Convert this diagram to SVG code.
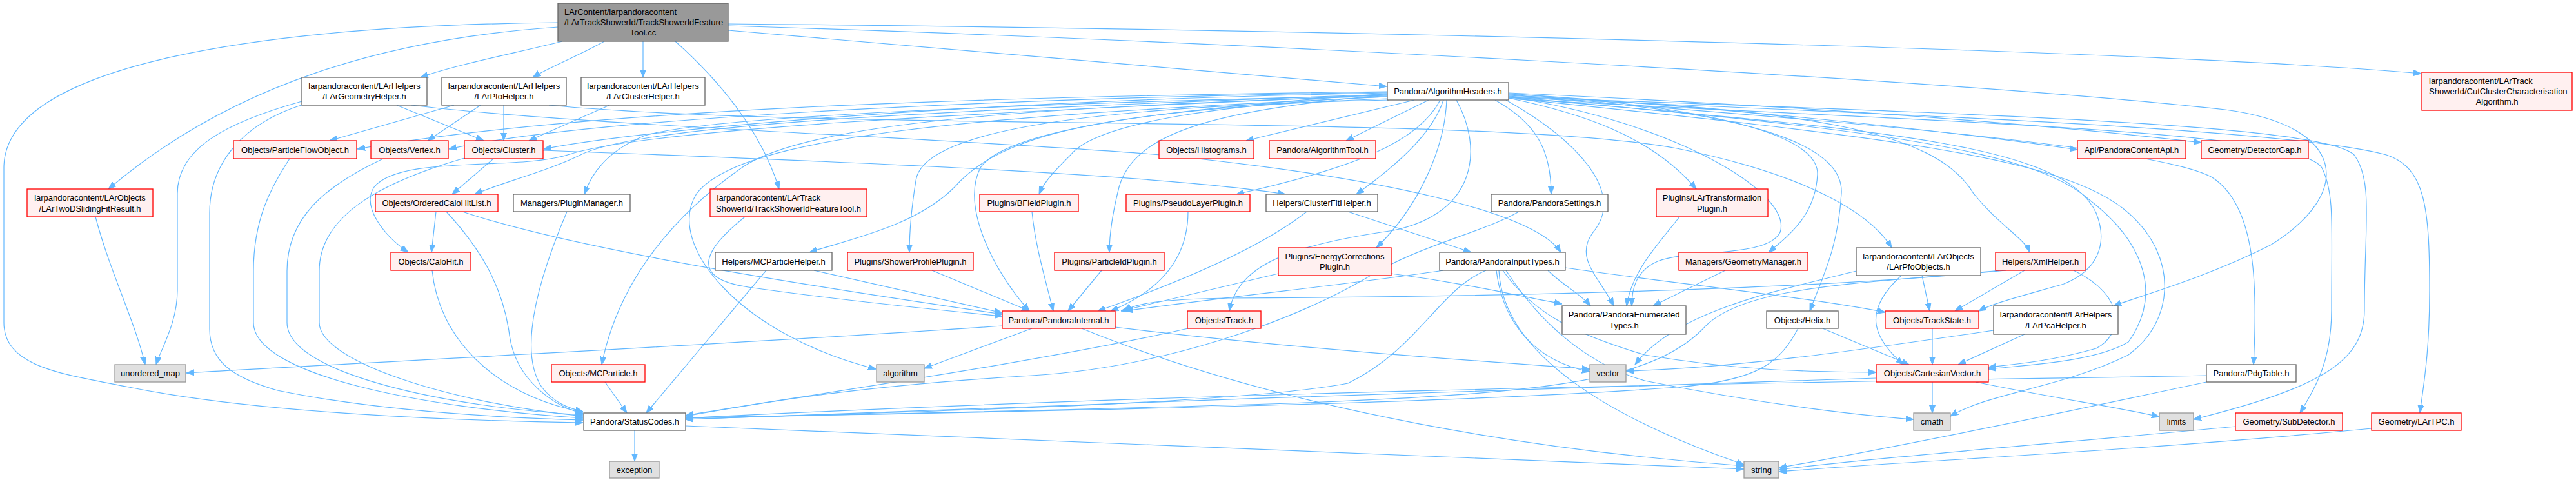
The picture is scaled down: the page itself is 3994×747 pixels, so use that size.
<svg xmlns="http://www.w3.org/2000/svg" width="3994" height="747" viewBox="0 0 3994 747">
<defs>
<style>
.e path{fill:none;stroke:#63b8ff;stroke-width:1.2;marker-end:url(#ah)}
.w rect{fill:#ffffff;stroke:#666666;stroke-width:1.3}
.r rect{fill:#fff0f0;stroke:#ff0000;stroke-width:1.3}
.s rect{fill:#e0e0e0;stroke:#999999;stroke-width:1.3}
.root rect{fill:#999999;stroke:#666666;stroke-width:1.3}
text{font-family:"Liberation Sans",Arial,sans-serif;font-size:13px;fill:#000000;text-anchor:middle}
text.l{text-anchor:start}
</style>
<marker id="ah" viewBox="0 0 12 10" refX="12" refY="5" markerWidth="12" markerHeight="10" orient="auto" markerUnits="userSpaceOnUse"><path d="M0,0.5 L12,5 L0,9.5 z" fill="#63b8ff" stroke="#63b8ff" stroke-width="1"/></marker>
</defs>
<rect width="3994" height="747" fill="#ffffff"/>
<g id="edges" class="e">
<path d="M1129,47 L2150,134"/>
<path d="M1129,37 C2000,45 3300,75 3754,114"/>
<path d="M1129,40 C1800,60 3000,120 3450,170 C3640,195 3650,300 3520,380 C3420,430 3330,455 3277,474"/>
<path d="M872,64 C800,82 700,102 652,120"/>
<path d="M937,64 C900,85 850,105 826,120"/>
<path d="M997,64 L997,120"/>
<path d="M1047,64 C1110,120 1180,200 1208,293"/>
<path d="M865,42 C600,60 360,130 168,293"/>
<path d="M865,35 C400,40 6,100 6,260 L6,500 C6,570 100,580 200,600 C400,640 700,652 904,655"/>
<path d="M615,163 L750,218"/>
<path d="M468,157 C350,190 275,230 275,300 L275,450 C275,500 250,540 242,565"/>
<path d="M470,162 C380,190 325,250 325,330 L325,510 C325,560 360,585 430,605 C600,640 800,648 904,651"/>
<path d="M638,163 C900,195 1500,215 1800,240 C2150,275 2380,330 2420,391"/>
<path d="M704,163 L511,218"/>
<path d="M745,163 L663,218"/>
<path d="M781,163 L781,218"/>
<path d="M851,163 C1300,205 2300,175 2600,230 C2800,270 2900,330 2933,384"/>
<path d="M945,163 L820,218"/>
<path d="M1155,336 C1100,380 1060,430 1160,445 C1300,465 1450,480 1554,490"/>
<path d="M765,246 L701,301"/>
<path d="M842,233 C1300,250 1800,270 1993,301"/>
<path d="M720,245 C600,280 495,330 495,420 L495,500 C495,560 700,625 904,645"/>
<path d="M594,246 C500,290 445,340 445,420 L445,500 C445,580 700,632 904,643"/>
<path d="M449,246 C420,290 393,340 393,420 L393,500 C393,580 650,632 904,648"/>
<path d="M148,336 C170,420 210,500 225,565"/>
<path d="M676,328 L669,391"/>
<path d="M692,328 C740,380 780,440 790,520 C800,590 860,630 904,641"/>
<path d="M717,328 C900,390 1300,450 1554,487"/>
<path d="M670,419 C680,520 760,610 904,639"/>
<path d="M879,328 C840,420 800,540 840,600 C860,625 880,632 904,638"/>
<path d="M2151,142 C1500,150 900,170 554,231"/>
<path d="M2151,143 C1500,153 900,185 696,231"/>
<path d="M2151,144 C1500,156 1000,200 843,231"/>
<path d="M2151,146 C1500,170 1000,190 900,240 C850,265 780,282 736,301"/>
<path d="M2151,147 C1500,175 1000,200 880,240 C800,265 620,240 580,290 C560,320 595,365 633,391"/>
<path d="M2151,148 C1600,160 1100,180 1000,210 C950,230 920,260 906,301"/>
<path d="M2151,149 C1600,165 1250,190 1150,260 C1050,330 960,430 933,565"/>
<path d="M2151,150 C1500,180 1150,210 1080,300 C1030,380 1150,520 1358,572"/>
<path d="M2152,153 C1700,170 1550,210 1480,290 C1420,350 1320,370 1255,391"/>
<path d="M2154,155 C1700,165 1430,200 1420,280 C1412,330 1410,360 1410,391"/>
<path d="M2151,145 C1800,170 1560,200 1520,260 C1490,320 1540,420 1596,482"/>
<path d="M2151,150 C1900,160 1700,190 1660,240 C1635,265 1620,280 1611,301"/>
<path d="M2151,147 C1900,170 1760,200 1735,290 C1725,330 1720,360 1720,391"/>
<path d="M2193,155 L1932,218"/>
<path d="M2215,155 L2087,218"/>
<path d="M2233,155 C2200,220 2100,260 1917,301"/>
<path d="M2238,155 C2220,210 2160,260 2103,301"/>
<path d="M2243,155 C2240,230 2200,320 2134,384"/>
<path d="M2258,155 C2300,230 2290,330 2161,357 C2000,380 1920,410 1906,482"/>
<path d="M2318,155 C2380,190 2405,230 2405,301"/>
<path d="M2339,152 C2450,175 2560,210 2630,293"/>
<path d="M2335,155 C2450,220 2520,300 2470,360 C2440,400 2480,430 2502,474"/>
<path d="M2339,150 C2600,190 2780,300 2760,360 C2740,400 2620,385 2570,405 C2535,420 2530,450 2530,474"/>
<path d="M2339,146 C2600,160 2820,200 2818,270 C2815,330 2780,360 2742,391"/>
<path d="M2339,147 C2700,170 2860,220 2855,300 C2850,380 2830,420 2806,482"/>
<path d="M2339,148 C2800,170 3000,200 3060,300 C3100,350 3140,370 3147,391"/>
<path d="M2339,151 C2900,200 3200,220 3250,330 C3270,380 3250,420 3200,440 C3130,460 3090,470 3068,482"/>
<path d="M2339,150 C2900,200 3150,230 3240,310 C3330,380 3350,460 3300,530 C3250,560 3150,565 3083,572"/>
<path d="M2339,152 C2900,210 3200,240 3300,330 C3380,400 3370,500 3300,550 C3200,600 3080,610 3024,645"/>
<path d="M2339,145 C2700,170 3000,200 3221,232"/>
<path d="M2339,144 C2800,165 3150,190 3413,221"/>
<path d="M2339,149 C2900,190 3350,230 3430,275 C3500,320 3500,450 3494,565"/>
<path d="M2339,153 C3000,190 3560,200 3600,260 C3620,300 3615,350 3615,480 C3615,560 3590,600 3566,640"/>
<path d="M2339,151 C3000,180 3550,200 3700,240 C3760,260 3767,320 3767,450 C3767,550 3757,600 3752,640"/>
<path d="M2339,150 C3000,175 3600,190 3650,240 C3680,280 3666,350 3666,480 C3666,560 3600,600 3401,650"/>
<path d="M2238,419 C2100,440 1900,460 1745,482"/>
<path d="M2400,419 C2420,440 2450,455 2466,474"/>
<path d="M2427,415 C2600,440 2800,460 2923,484"/>
<path d="M2304,419 C2230,450 2200,540 2090,594 C1900,630 1300,640 1063,650"/>
<path d="M2320,419 C2330,500 2380,560 2465,576"/>
<path d="M2324,419 C2330,550 2500,650 2704,720"/>
<path d="M2330,419 C2380,490 2450,520 2550,550 C2700,575 2800,576 2909,577"/>
<path d="M2335,419 C2400,520 2480,570 2550,590 C2750,630 2900,645 2967,650"/>
<path d="M1982,424 L1738,482"/>
<path d="M2157,424 C2280,440 2360,460 2422,471"/>
<path d="M2355,328 C2300,360 2200,380 2120,430 C2000,500 1800,570 1600,582 C1300,600 1150,630 1063,645"/>
<path d="M2604,336 C2570,380 2530,420 2522,474"/>
<path d="M2675,419 L2563,474"/>
<path d="M2026,328 C1960,380 1850,430 1702,482"/>
<path d="M2090,328 L2281,391"/>
<path d="M1600,328 C1605,380 1620,430 1633,482"/>
<path d="M1842,328 C1842,400 1800,450 1722,482"/>
<path d="M1708,419 L1656,482"/>
<path d="M1445,419 L1596,482"/>
<path d="M1262,419 L1554,485"/>
<path d="M1188,419 L1002,640"/>
<path d="M938,592 L972,640"/>
<path d="M1842,509 C1600,564 1200,620 1063,644"/>
<path d="M1554,505 C1200,530 600,560 289,578"/>
<path d="M1600,509 L1433,571"/>
<path d="M1677,509 C2000,640 2400,700 2704,722"/>
<path d="M1729,507 C2000,540 2300,560 2465,572"/>
<path d="M2826,509 L2960,565"/>
<path d="M2788,509 C2760,560 2730,590 2600,600 C2200,630 1400,640 1063,648"/>
<path d="M2996,509 L2996,565"/>
<path d="M2878,420 C2760,450 2600,480 2535,565"/>
<path d="M2980,427 L2992,482"/>
<path d="M2948,427 C2890,480 2900,520 2951,565"/>
<path d="M3139,419 L3031,482"/>
<path d="M3215,419 C3300,460 3290,520 3250,540 C3180,560 3120,565 3083,569"/>
<path d="M3110,419 C2800,450 2300,460 1900,462 C1800,464 1760,470 1743,482"/>
<path d="M3100,419 C2900,440 2700,440 2640,510 C2560,590 2400,610 2000,625 C1500,640 1200,645 1063,647"/>
<path d="M3091,512 C2900,540 2700,570 2521,575"/>
<path d="M3139,518 L3036,565"/>
<path d="M3421,592 C3150,650 2900,700 2758,725"/>
<path d="M3421,582 C3000,590 2000,600 1063,648"/>
<path d="M3466,661 C3200,686 2900,710 2758,728"/>
<path d="M3677,664 C3300,700 2950,715 2758,731"/>
<path d="M2996,592 L2996,640"/>
<path d="M3063,592 C3200,620 3280,630 3348,646"/>
<path d="M2909,586 C2500,600 1500,630 1063,650"/>
<path d="M984,667 L984,715"/>
<path d="M1063,660 C1700,690 2300,710 2704,727"/>
</g>
<g id="node-root" class="root"><rect x="865" y="5" width="264" height="59"/><text class="l" x="875" y="23">LArContent/larpandoracontent</text><text class="l" x="875" y="39">/LArTrackShowerId/TrackShowerIdFeature</text><text x="997" y="55">Tool.cc</text></g>
<g id="node-geo" class="w"><rect x="468" y="120" width="194" height="43"/><text x="565" y="138">larpandoracontent/LArHelpers</text><text x="565" y="154">/LArGeometryHelper.h</text></g>
<g id="node-pfohelper" class="w"><rect x="685" y="120" width="193" height="43"/><text x="781.5" y="138">larpandoracontent/LArHelpers</text><text x="781.5" y="154">/LArPfoHelper.h</text></g>
<g id="node-clusterhelper" class="w"><rect x="901" y="120" width="192" height="43"/><text x="997" y="138">larpandoracontent/LArHelpers</text><text x="997" y="154">/LArClusterHelper.h</text></g>
<g id="node-algheaders" class="w"><rect x="2151" y="128" width="188" height="27"/><text x="2245" y="146">Pandora/AlgorithmHeaders.h</text></g>
<g id="node-cutcluster" class="r"><rect x="3755" y="112" width="233" height="59"/><text class="l" x="3766" y="130">larpandoracontent/LArTrack</text><text class="l" x="3766" y="146">ShowerId/CutClusterCharacterisation</text><text x="3871.5" y="162">Algorithm.h</text></g>
<g id="node-pfo" class="r"><rect x="362" y="218" width="191" height="28"/><text x="457.5" y="236.7">Objects/ParticleFlowObject.h</text></g>
<g id="node-vertex" class="r"><rect x="575" y="218" width="120" height="28"/><text x="635" y="236.7">Objects/Vertex.h</text></g>
<g id="node-cluster" class="r"><rect x="720" y="218" width="122" height="28"/><text x="781" y="236.7">Objects/Cluster.h</text></g>
<g id="node-histograms" class="r"><rect x="1797" y="218" width="147" height="28"/><text x="1870.5" y="236.7">Objects/Histograms.h</text></g>
<g id="node-algtool" class="r"><rect x="1968" y="218" width="165" height="28"/><text x="2050.5" y="236.7">Pandora/AlgorithmTool.h</text></g>
<g id="node-api" class="r"><rect x="3221" y="218" width="168" height="28"/><text x="3305" y="236.7">Api/PandoraContentApi.h</text></g>
<g id="node-gap" class="r"><rect x="3413" y="218" width="166" height="28"/><text x="3496" y="236.7">Geometry/DetectorGap.h</text></g>
<g id="node-twod" class="r"><rect x="42" y="293" width="195" height="43"/><text x="139.5" y="311">larpandoracontent/LArObjects</text><text x="139.5" y="327.5">/LArTwoDSlidingFitResult.h</text></g>
<g id="node-och" class="r"><rect x="582" y="301" width="190" height="27"/><text x="677" y="319.4">Objects/OrderedCaloHitList.h</text></g>
<g id="node-pluginmanager" class="w"><rect x="796" y="301" width="181" height="27"/><text x="886.5" y="319.4">Managers/PluginManager.h</text></g>
<g id="node-tsft" class="r"><rect x="1101" y="293" width="243" height="43"/><text class="l" x="1111.5" y="311">larpandoracontent/LArTrack</text><text x="1222.5" y="327.5">ShowerId/TrackShowerIdFeatureTool.h</text></g>
<g id="node-bfield" class="r"><rect x="1519" y="301" width="153" height="27"/><text x="1595.5" y="319.4">Plugins/BFieldPlugin.h</text></g>
<g id="node-pseudo" class="r"><rect x="1746" y="301" width="192" height="27"/><text x="1842" y="319.4">Plugins/PseudoLayerPlugin.h</text></g>
<g id="node-cfh" class="w"><rect x="1963" y="301" width="173" height="27"/><text x="2049.5" y="319.4">Helpers/ClusterFitHelper.h</text></g>
<g id="node-settings" class="w"><rect x="2312" y="301" width="181" height="27"/><text x="2402.5" y="319.4">Pandora/PandoraSettings.h</text></g>
<g id="node-lartr" class="r"><rect x="2568" y="293" width="173" height="43"/><text x="2654.5" y="311">Plugins/LArTransformation</text><text x="2654.5" y="327.5">Plugin.h</text></g>
<g id="node-calohit" class="r"><rect x="606" y="391" width="124" height="28"/><text x="668" y="409.7">Objects/CaloHit.h</text></g>
<g id="node-mcph" class="w"><rect x="1109" y="391" width="181" height="28"/><text x="1199.5" y="409.7">Helpers/MCParticleHelper.h</text></g>
<g id="node-spp" class="r"><rect x="1314" y="391" width="195" height="28"/><text x="1411.5" y="409.7">Plugins/ShowerProfilePlugin.h</text></g>
<g id="node-pidp" class="r"><rect x="1635" y="391" width="170" height="28"/><text x="1720" y="409.7">Plugins/ParticleIdPlugin.h</text></g>
<g id="node-ecp" class="r"><rect x="1982" y="384" width="175" height="43"/><text x="2069.5" y="401.5">Plugins/EnergyCorrections</text><text x="2069.5" y="418">Plugin.h</text></g>
<g id="node-pit" class="w"><rect x="2232" y="391" width="195" height="28"/><text x="2329.5" y="409.7">Pandora/PandoraInputTypes.h</text></g>
<g id="node-gm" class="r"><rect x="2603" y="391" width="200" height="28"/><text x="2703" y="409.7">Managers/GeometryManager.h</text></g>
<g id="node-lpo" class="w"><rect x="2878" y="384" width="193" height="43"/><text x="2974.5" y="401.5">larpandoracontent/LArObjects</text><text x="2974.5" y="418">/LArPfoObjects.h</text></g>
<g id="node-xml" class="r"><rect x="3094" y="391" width="139" height="28"/><text x="3163.5" y="409.7">Helpers/XmlHelper.h</text></g>
<g id="node-pint" class="r"><rect x="1554" y="482" width="175" height="27"/><text x="1641.5" y="500.5">Pandora/PandoraInternal.h</text></g>
<g id="node-track" class="r"><rect x="1841" y="482" width="114" height="27"/><text x="1898" y="500.5">Objects/Track.h</text></g>
<g id="node-enumt" class="w"><rect x="2422" y="474" width="192" height="44"/><text x="2518" y="492.3">Pandora/PandoraEnumerated</text><text x="2518" y="508.7">Types.h</text></g>
<g id="node-helix" class="w"><rect x="2739" y="482" width="111" height="27"/><text x="2794.5" y="500.5">Objects/Helix.h</text></g>
<g id="node-trackstate" class="r"><rect x="2923" y="482" width="145" height="27"/><text x="2995.5" y="500.5">Objects/TrackState.h</text></g>
<g id="node-pca" class="w"><rect x="3091" y="474" width="193" height="44"/><text x="3187.5" y="492.3">larpandoracontent/LArHelpers</text><text x="3187.5" y="508.7">/LArPcaHelper.h</text></g>
<g id="node-umap" class="s"><rect x="178" y="565" width="110" height="27"/><text x="233" y="583.4">unordered_map</text></g>
<g id="node-mcp" class="r"><rect x="855" y="565" width="145" height="27"/><text x="927.5" y="583.4">Objects/MCParticle.h</text></g>
<g id="node-algorithm" class="s"><rect x="1359" y="565" width="74" height="27"/><text x="1396" y="583.4">algorithm</text></g>
<g id="node-vector" class="s"><rect x="2465" y="565" width="56" height="27"/><text x="2493" y="583.4">vector</text></g>
<g id="node-cvec" class="r"><rect x="2909" y="565" width="174" height="27"/><text x="2996" y="583.4">Objects/CartesianVector.h</text></g>
<g id="node-pdg" class="w"><rect x="3421" y="565" width="139" height="27"/><text x="3490.5" y="583.4">Pandora/PdgTable.h</text></g>
<g id="node-status" class="w"><rect x="905" y="640" width="158" height="27"/><text x="984" y="658">Pandora/StatusCodes.h</text></g>
<g id="node-cmath" class="s"><rect x="2967" y="640" width="57" height="27"/><text x="2995.5" y="658">cmath</text></g>
<g id="node-limits" class="s"><rect x="3348" y="640" width="53" height="27"/><text x="3374.5" y="658">limits</text></g>
<g id="node-subdet" class="r"><rect x="3466" y="640" width="166" height="27"/><text x="3549" y="658">Geometry/SubDetector.h</text></g>
<g id="node-lartpc" class="r"><rect x="3677" y="640" width="139" height="27"/><text x="3746.5" y="658">Geometry/LArTPC.h</text></g>
<g id="node-exception" class="s"><rect x="945" y="715" width="77" height="26"/><text x="983.5" y="732.7">exception</text></g>
<g id="node-string" class="s"><rect x="2704" y="715" width="54" height="26"/><text x="2731" y="732.7">string</text></g>
</svg>
